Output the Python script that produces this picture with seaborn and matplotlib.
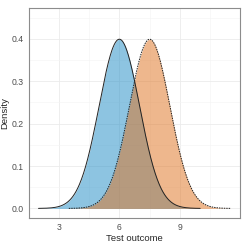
import numpy as np
import pandas as pd
import seaborn as sns
import matplotlib.pyplot as plt
from matplotlib.ticker import MultipleLocator

# Two normal test-outcome distributions
groups = ["A", "B"]
means = [6.0, 7.5]
sds = [1.0, 1.0]
x_from = [2.0, 3.5]
x_to = [10.0, 11.5]
fills = ["#1D8BC5", "#DF711D"]
line_styles = ["-", (0, (1.5, 1))]

x_ticks = [3, 6, 9]
y_ticks = [0.0, 0.1, 0.2, 0.3, 0.4]

rows = []
for g, m, s, a, b in zip(groups, means, sds, x_from, x_to):
    xs = np.linspace(a, b, 400)
    dens = np.exp(-0.5 * ((xs - m) / s) ** 2) / (s * np.sqrt(2 * np.pi))
    rows.append(pd.DataFrame({"group": g, "x": xs, "density": dens}))
df = pd.concat(rows, ignore_index=True)

sns.set_style("white")
plt.rcParams["font.family"] = ["Liberation Sans", "DejaVu Sans"]
fig = plt.figure(figsize=(2.43, 2.43), dpi=100)
ax = fig.add_axes([0.119, 0.103, 0.869, 0.864])

for g, col, ls in zip(groups, fills, line_styles):
    sub = df[df["group"] == g]
    ax.fill_between(sub["x"], 0, sub["density"], color=col, alpha=0.5, lw=0, zorder=2)
    sns.lineplot(data=sub, x="x", y="density", color="#222222", lw=0.7,
                 linestyle=ls, ax=ax, zorder=3)

ax.set_xlim(1.525, 11.975)
ax.set_ylim(-0.0225, 0.4725)
ax.set_xticks(x_ticks)
ax.set_yticks(y_ticks)
ax.set_yticklabels([f"{v:.1f}" for v in y_ticks])
ax.xaxis.set_minor_locator(MultipleLocator(1.5))
ax.yaxis.set_minor_locator(MultipleLocator(0.05))
ax.grid(True, which="major", color="#EBEBEB", lw=0.6, zorder=0)
ax.grid(True, which="minor", color="#F4F4F4", lw=0.4, zorder=0)
ax.set_axisbelow(True)
for sp in ax.spines.values():
    sp.set_color("#8C8C8C")
    sp.set_linewidth(0.8)
ax.tick_params(which="major", length=2.2, width=0.5, color="#666666",
               labelsize=6.2, labelcolor="#4D4D4D", pad=1.5)
ax.tick_params(which="minor", length=0)
ax.set_xlabel("Test outcome", fontsize=6.8, labelpad=1.5)
ax.set_ylabel("Density", fontsize=6.8, labelpad=2)

fig.savefig("out.png", dpi=100)
